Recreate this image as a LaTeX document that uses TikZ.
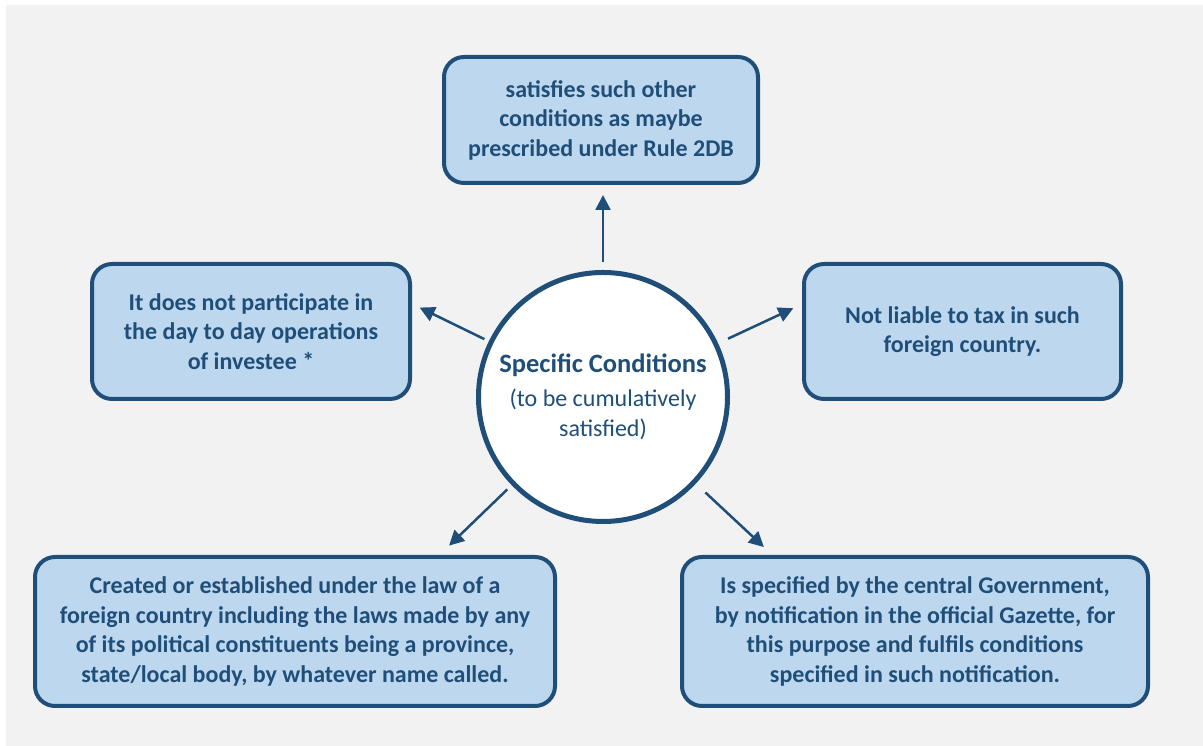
\documentclass[tikz,border=0pt]{standalone}
\usepackage{fontspec}
\setmainfont{Carlito}
\usetikzlibrary{arrows.meta}
\definecolor{darkblue}{HTML}{1F4E79}
\definecolor{lightblue}{HTML}{BDD7EE}
\definecolor{bggray}{HTML}{F2F2F2}
\tikzset{
  condbox/.style={draw=darkblue, line width=4pt, fill=lightblue, rounded corners=20pt,
    text=darkblue, font=\bfseries\fontsize{24}{29.5}\selectfont, align=center, inner sep=0pt},
  hub/.style={circle, draw=darkblue, line width=5pt, fill=white, text=darkblue,
    font=\fontsize{24}{30}\selectfont, align=center, minimum size=249pt, inner sep=0pt},
  arr/.style={darkblue, line width=2.5pt, -{Triangle[length=15pt,width=15pt]}}
}

\begin{document}
\begin{tikzpicture}[x=1pt,y=1pt]
%%Canvas
\useasboundingbox (0,0) rectangle (1203,746);
\fill[bggray] (6,0) rectangle (1203,741);

%%Hub
\node[hub] (ctr) at (603,349) {{\bfseries\fontsize{26.5}{34}\selectfont Specific Conditions}\\[4pt]
  (to be cumulatively\\satisfied)};

%%Conditions
\node[condbox, minimum width=314, minimum height=126] (top) at (601,626)
  {satisfies such other\\conditions as maybe\\prescribed under Rule 2DB};
\node[condbox, minimum width=318, minimum height=135] (lft) at (251,414.5)
  {It does not participate in\\the day to day operations\\of investee *};
\node[condbox, minimum width=317, minimum height=135] (rgt) at (962.5,414.5)
  {Not liable to tax in such\\foreign country.};
\node[condbox, minimum width=520, minimum height=149] (blft) at (295,114.5)
  {Created or established under the law of a\\foreign country including the laws made by any\\of its political constituents being a province,\\state/local body, by whatever name called.};
\node[condbox, minimum width=466, minimum height=149] (brgt) at (915,114.5)
  {Is specified by the central Government,\\by notification in the official Gazette, for\\this purpose and fulfils conditions\\specified in such notification.};

%%Arrows
\draw[arr] (ctr.90) ++(90:8) -- ++(90:67);
\draw[arr] (ctr.154) ++(154:5) -- ++(154:72);
\draw[arr] (ctr.25) ++(25:11) -- ++(25:72);
\draw[arr] (ctr.-136) ++(-136:6) -- ++(-136:81);
\draw[arr] (ctr.-43) ++(-43:13) -- ++(-43:80);

\end{tikzpicture}
\end{document}
